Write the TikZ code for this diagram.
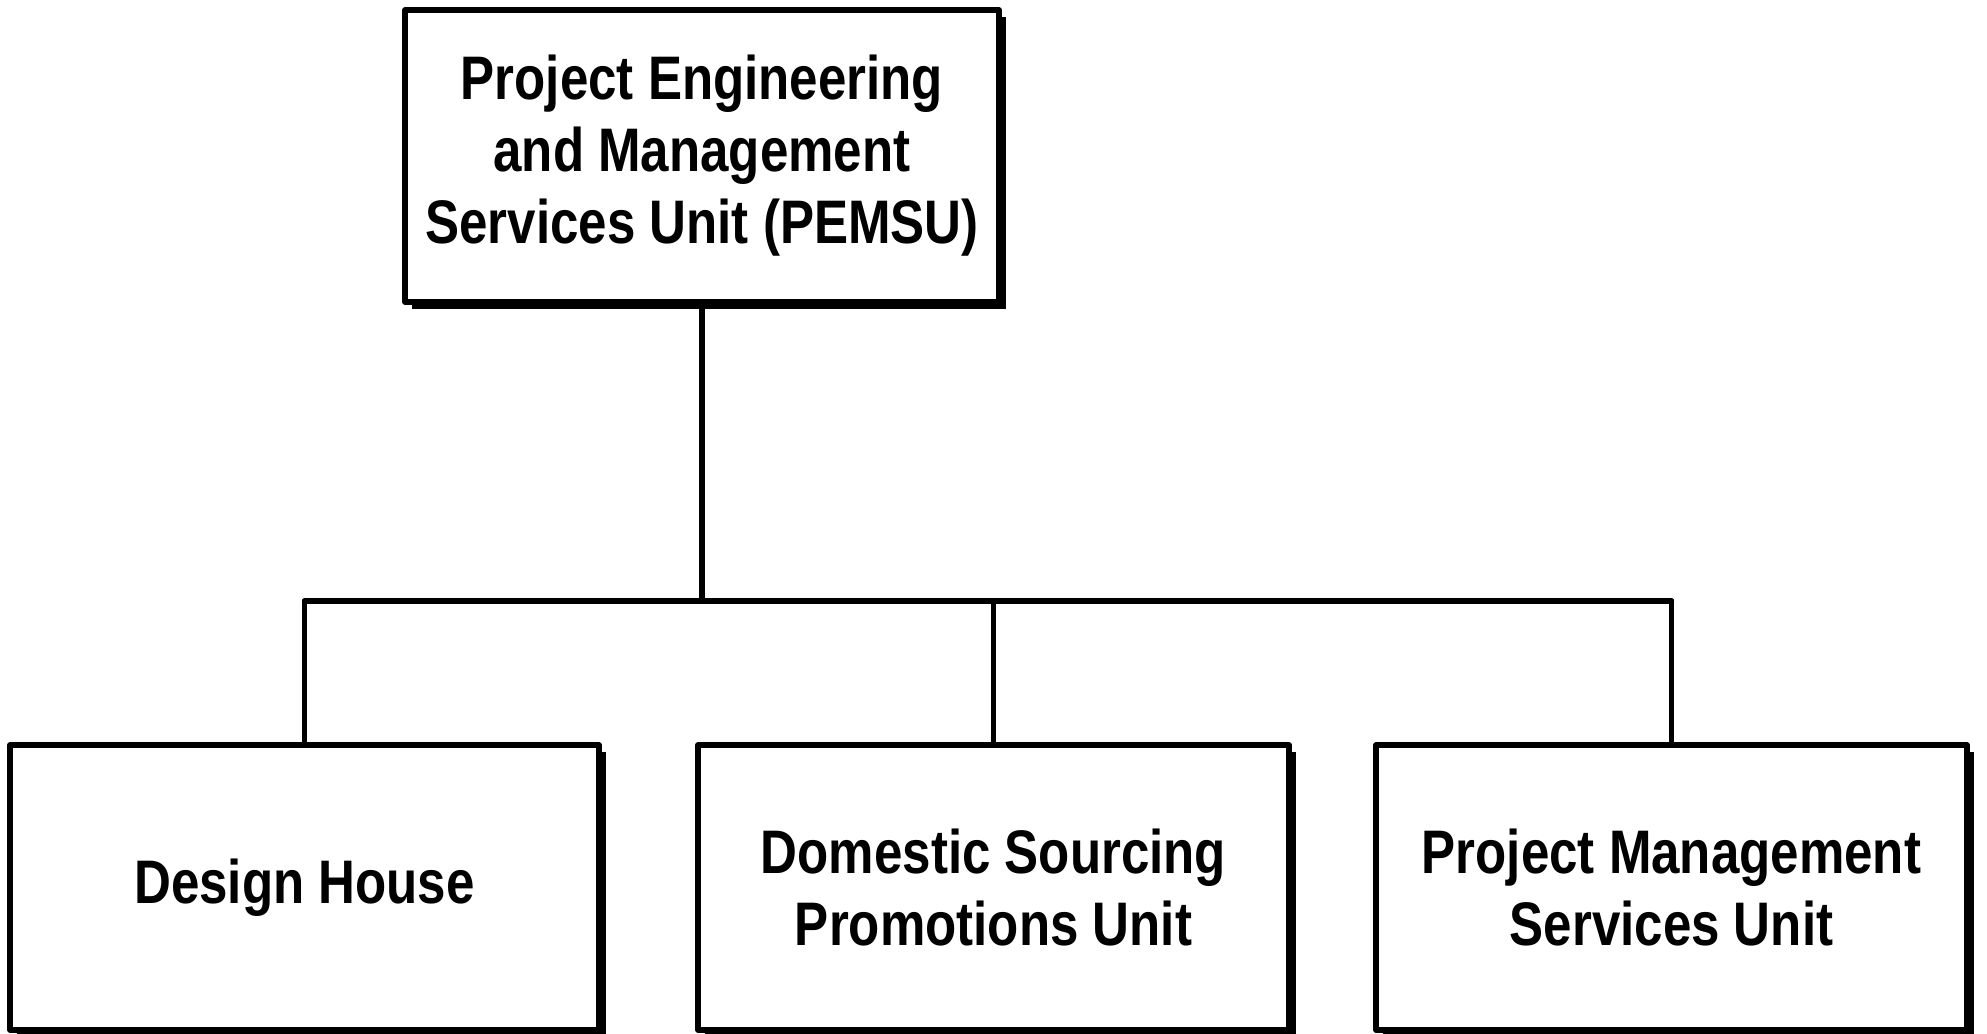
\documentclass[tikz,border=0pt]{standalone}
\usepackage{fontspec}
\setmainfont{Liberation Sans}[FakeStretch=0.83]
\usetikzlibrary{shadows}
\begin{document}
\begin{tikzpicture}[line join=round,line cap=round,line width=1.5pt,
	unit/.style={draw,fill=white,align=center,inner sep=0pt,
		font=\fontsize{17.5}{20.5}\selectfont\bfseries,
		drop shadow={fill=black,opacity=1,shadow xshift=2pt,shadow yshift=-2pt}}]
				\useasboundingbox (0,0) rectangle (19.87,10.34);
				\node[unit,minimum width=5.94cm,minimum height=2.92cm] (P) at (7.02,8.78)
					{Project Engineering\\and Management\\Services Unit (PEMSU)};
				\node[unit,minimum width=5.89cm,minimum height=2.85cm] (D) at (3.045,1.465) {Design House};
				\node[unit,minimum width=5.91cm,minimum height=2.85cm] (S) at (9.935,1.465)
					{Domestic Sourcing\\Promotions Unit};
				\node[unit,minimum width=5.91cm,minimum height=2.85cm] (M) at (16.715,1.465)
					{Project Management\\Services Unit};
				\coordinate (B) at (7.02,4.33);
				\draw (P.south)--(B);
				\draw (D.north|-B)--(M.north|-B);
				\draw (D.north)--(D.north|-B);
				\draw (S.north)--(S.north|-B);
				\draw (M.north)--(M.north|-B);
			\end{tikzpicture}
\end{document}
